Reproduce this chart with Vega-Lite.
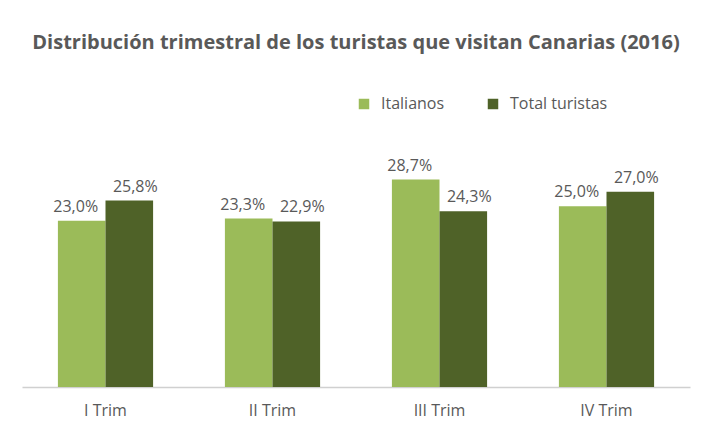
{
  "$schema": "https://vega.github.io/schema/vega-lite/v6.json",
  "autosize": {"type": "none"},
  "padding": {"left": 22, "top": 134, "right": 11, "bottom": 36},
  "width": 668,
  "height": 253,
  "background": "white",
  "title": {
    "text": "Distribución trimestral de los turistas que visitan Canarias (2016)",
    "font": "Open Sans",
    "fontSize": 20,
    "fontWeight": "bold",
    "color": "#595959",
    "anchor": "middle",
    "offset": 43
  },
  "data": {
    "values": [
      {"trim": "I Trim", "serie": "Italianos", "valor": 23.0, "etiqueta": "23,0%"},
      {"trim": "I Trim", "serie": "Total turistas", "valor": 25.8, "etiqueta": "25,8%"},
      {"trim": "II Trim", "serie": "Italianos", "valor": 23.3, "etiqueta": "23,3%"},
      {"trim": "II Trim", "serie": "Total turistas", "valor": 22.9, "etiqueta": "22,9%"},
      {"trim": "III Trim", "serie": "Italianos", "valor": 28.7, "etiqueta": "28,7%"},
      {"trim": "III Trim", "serie": "Total turistas", "valor": 24.3, "etiqueta": "24,3%"},
      {"trim": "IV Trim", "serie": "Italianos", "valor": 25.0, "etiqueta": "25,0%"},
      {"trim": "IV Trim", "serie": "Total turistas", "valor": 27.0, "etiqueta": "27,0%"}
    ]
  },
  "encoding": {
    "x": {
      "field": "trim", "type": "nominal", "sort": null,
      "scale": {"paddingInner": 0.43, "paddingOuter": 0.215},
      "axis": {
        "title": null, "ticks": false, "domainColor": "#D0D0D0", "domainWidth": 1.5,
        "labelFont": "Open Sans", "labelFontSize": 16, "labelColor": "#595959",
        "labelPadding": 15, "labelAngle": 0
      }
    },
    "y": {
      "field": "valor", "type": "quantitative",
      "scale": {"domain": [0, 35], "nice": false},
      "axis": null
    },
    "xOffset": {"field": "serie", "type": "nominal", "scale": {"paddingInner": 0, "paddingOuter": 0}}
  },
  "layer": [
    {
      "mark": {"type": "bar"},
      "encoding": {
        "color": {
          "field": "serie", "type": "nominal",
          "scale": {"domain": ["Italianos", "Total turistas"], "range": ["#9BBB59", "#4F6228"]},
          "legend": {
            "title": null, "orient": "none", "direction": "horizontal",
            "legendX": 334, "legendY": -38,
            "symbolType": "square", "symbolSize": 110, "symbolStrokeWidth": 0,
            "labelFont": "Open Sans", "labelFontSize": 16, "labelColor": "#595959",
            "labelOffset": 9, "columnPadding": 40
          }
        }
      }
    },
    {
      "transform": [{"filter": "datum.serie === 'Italianos'"}],
      "mark": {"type": "text", "baseline": "alphabetic", "dy": -9, "dx": -6, "font": "Open Sans", "fontSize": 16, "color": "#595959"},
      "encoding": {"text": {"field": "etiqueta"}}
    },
    {
      "transform": [{"filter": "datum.serie === 'Total turistas'"}],
      "mark": {"type": "text", "baseline": "alphabetic", "dy": -9, "dx": 6, "font": "Open Sans", "fontSize": 16, "color": "#595959"},
      "encoding": {"text": {"field": "etiqueta"}}
    }
  ],
  "config": {"view": {"stroke": null}}
}
